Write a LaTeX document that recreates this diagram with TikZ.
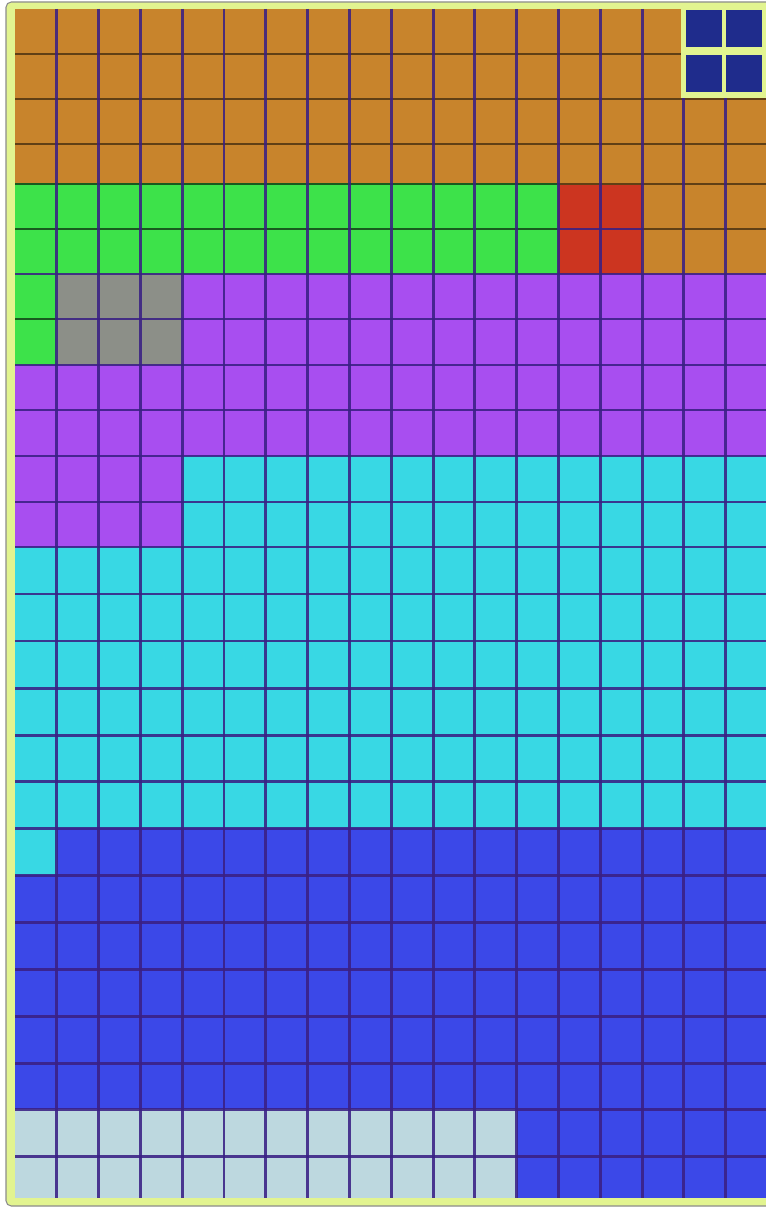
\documentclass[tikz,border=0pt]{standalone}
\usetikzlibrary{calc}
\definecolor{Ybrd}{HTML}{E2F490}
\definecolor{Cbrown}{HTML}{C8842C}
\definecolor{Cgreen}{HTML}{3DE24A}
\definecolor{Cred}{HTML}{CC3520}
\definecolor{Cgray}{HTML}{8C8F88}
\definecolor{Cpurple}{HTML}{A84EF0}
\definecolor{Ccyan}{HTML}{38D8E4}
\definecolor{Cblue}{HTML}{3B48E8}
\definecolor{Clight}{HTML}{BDD8DF}
\definecolor{Cnavy}{HTML}{1F2C8C}
\definecolor{lineP}{HTML}{3A2084}
\colorlet{lineB}{Cbrown!48!black}
\colorlet{lineG}{Cgreen!40!black}
\tikzset{
  frameY/.style ={fill=Ybrd, draw=black!45, line width=0.6pt, rounded corners=3pt},
  gline/.style  ={draw=lineP, line width=1.7pt, draw opacity=0.88},
  glineB/.style ={gline, draw=lineB, draw opacity=1},
  glineG/.style ={gline, draw=lineG, draw opacity=1},
  navycell/.style={fill=Cnavy},
}

\begin{document}
\begin{tikzpicture}[x=0.02cm, y=-0.02cm]
\useasboundingbox (0,0) rectangle (765,1209);
\fill[white] (0,0) rectangle (765,1209);

% outer frame
\draw[frameY] (6,2) rectangle (775,1206);

% grid coordinates: columns c0..c18, rows r0..r26
\foreach \k in {0,...,18}
  \coordinate (c\k) at (15+41.8*\k, 0);
\foreach \i/\y in {0/9, 1/54, 2/99, 3/144, 4/184, 5/229, 6/274, 7/319, 8/365,
                   9/410, 10/456, 11/502, 12/547, 13/594, 14/641, 15/688,
                   16/735, 17/781, 18/828, 19/875, 20/922, 21/969, 22/1016,
                   23/1063, 24/1109, 25/1156, 26/1198}
  \coordinate (r\i) at (0, \y);

% colour blocks
\fill[Cbrown]  (c0|-r0)   rectangle (c18|-r4);
\fill[Cbrown]  (c15|-r4)  rectangle (c18|-r6);
\fill[Cgreen]  (c0|-r4)   rectangle (c13|-r6);
\fill[Cgreen]  (c0|-r6)   rectangle (c1|-r8);
\fill[Cred]    (c13|-r4)  rectangle (c15|-r6);
\fill[Cgray]   (c1|-r6)   rectangle (c4|-r8);
\fill[Cpurple] (c4|-r6)   rectangle (c18|-r8);
\fill[Cpurple] (c0|-r8)   rectangle (c18|-r10);
\fill[Cpurple] (c0|-r10)  rectangle (c4|-r12);
\fill[Ccyan]   (c4|-r10)  rectangle (c18|-r12);
\fill[Ccyan]   (c0|-r12)  rectangle (c18|-r18);
\fill[Ccyan]   (c0|-r18)  rectangle (c1|-r19);
\fill[Cblue]   (c1|-r18)  rectangle (c18|-r19);
\fill[Cblue]   (c0|-r19)  rectangle (c18|-r24);
\fill[Cblue]   (c12|-r24) rectangle (c18|-r26);
\fill[Clight]  (c0|-r24)  rectangle (c12|-r26);

% grid lines
\foreach \i in {4,...,25}
  \draw[gline] (c0|-r\i) -- (c18|-r\i);
\foreach \i in {1,2,3}
  \draw[glineB] (c0|-r\i) -- (c18|-r\i);
\draw[glineB] (c13|-r4) -- (c18|-r4);
\draw[glineB] (c15|-r5) -- (c18|-r5);
\draw[glineG] (c0|-r4) -- (c13|-r4);
\draw[glineG] (c0|-r5) -- (c13|-r5);
\draw[glineG] (c0|-r7) -- (c1|-r7);
\foreach \k in {1,...,17}
  \draw[gline] (c\k|-r0) -- (c\k|-r26);

% top-right marker
\fill[Ybrd] (681,3) rectangle (775,98);
\foreach \x/\y in {686/10, 726/10, 686/55, 726/55}
  \fill[navycell] (\x,\y) rectangle ++(36,37);

\end{tikzpicture}
\end{document}
